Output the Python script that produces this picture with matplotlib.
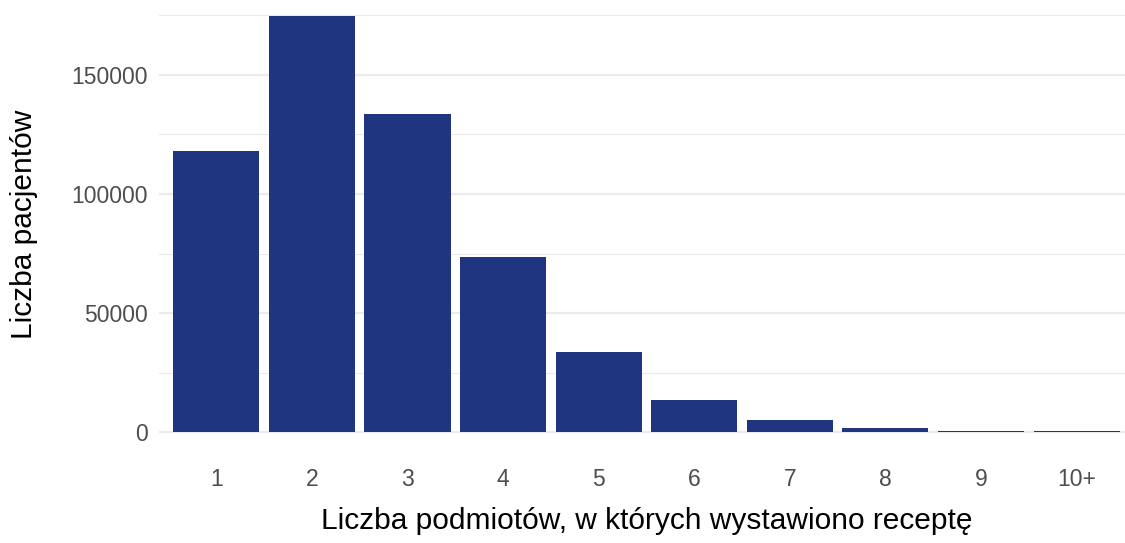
import matplotlib
matplotlib.use("Agg")
import matplotlib.pyplot as plt
import numpy as np

# data
categories = ["1", "2", "3", "4", "5", "6", "7", "8", "9", "10+"]
patients = [118000, 174800, 133500, 73500, 33500, 13400, 5000, 1600, 500, 350]

bar_color = "#1f3580"
grid_color = "#ebebeb"
text_gray = "#4d4d4d"

plt.rcParams["font.family"] = ["Liberation Sans", "DejaVu Sans"]

fig = plt.figure(figsize=(11.25, 5.43), dpi=100)
ax = fig.add_axes([0.1413, 0.1657, 0.8667, 0.8435])

x = np.arange(len(categories))
ax.bar(x, patients, width=0.9, color=bar_color, zorder=3)

ymax = max(patients)
ax.set_ylim(-0.05 * ymax, 1.05 * ymax)
ax.set_xlim(-0.6, len(categories) - 0.4)

ax.set_yticks([0, 50000, 100000, 150000])
ax.set_yticks([25000, 75000, 125000, 175000], minor=True)
ax.set_xticks(x)
ax.set_xticklabels(categories)

ax.grid(axis="y", which="major", color=grid_color, lw=1.6, zorder=0)
ax.grid(axis="y", which="minor", color=grid_color, lw=0.8, zorder=0)
for s in ax.spines.values():
    s.set_visible(False)
ax.tick_params(axis="both", which="both", length=0, labelsize=16.5,
               labelcolor=text_gray)
ax.tick_params(axis="x", pad=11)
ax.tick_params(axis="y", pad=8)

ax.set_xlabel("Liczba podmiotów, w których wystawiono receptę",
              fontsize=21.5, labelpad=11)
ax.set_ylabel("Liczba pacjentów", fontsize=21.5, labelpad=24)

fig.savefig("out.png", dpi=100)
